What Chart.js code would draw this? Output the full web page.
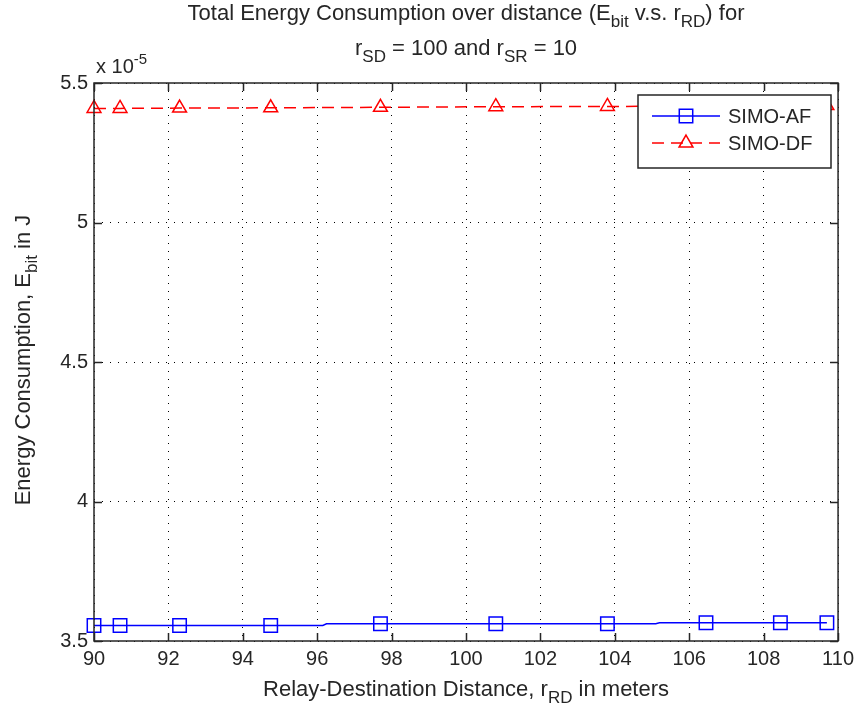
<!DOCTYPE html>
<html>
<head>
<meta charset="utf-8">
<script src="https://cdn.jsdelivr.net/npm/chart.js@4.4.0/dist/chart.umd.min.js"></script>
<style>
  html, body { margin: 0; padding: 0; background: #fff; }
  canvas { display: block; }
</style>
</head>
<body>
<canvas id="energyChart" width="860" height="711"></canvas>
<script>
// energy values are in units of 1e-5 J (axis shows "x 10^-5")
const markerDistances = [90, 90.7, 92.3, 94.75, 97.7, 100.8, 103.8, 106.45, 108.45, 109.7];

const afDistances = [90, 90.7, 92.3, 94.75, 96.15, 96.25, 97.7, 100.8, 103.8, 105.1, 105.2, 106.45, 108.45, 109.7];
const afEnergy    = [3.5556, 3.5556, 3.5556, 3.5556, 3.5556, 3.5616, 3.5616, 3.5616, 3.5616, 3.5616, 3.5652, 3.5652, 3.5652, 3.5652];

const dfDistances = markerDistances;
const dfEnergy    = [5.409, 5.409, 5.410, 5.411, 5.413, 5.415, 5.416, 5.417, 5.418, 5.419];

const xTicks = [90, 92, 94, 96, 98, 100, 102, 104, 106, 108, 110];
const yTicks = [3.5, 4, 4.5, 5, 5.5];
const seriesNames = ['SIMO-AF', 'SIMO-DF'];

const FONT = '"Liberation Sans", Arial, sans-serif';
const LABEL_SIZE = 22;
const TICK_SIZE = 20;
const TEXT_COLOR = '#262626';

// draw text made of parts: [text, ''|'sub'|'sup'], centred on x
function drawRich(ctx, parts, x, y, size, align) {
    const small = Math.round(size * 0.75);
    let total = 0;
    parts.forEach(([t, mode]) => {
        ctx.font = (mode ? small : size) + 'px ' + FONT;
        total += ctx.measureText(t).width;
    });
    let cx = align === 'left' ? x : x - total / 2;
    ctx.textAlign = 'left';
    ctx.textBaseline = 'alphabetic';
    parts.forEach(([t, mode]) => {
        ctx.font = (mode ? small : size) + 'px ' + FONT;
        let dy = 0;
        if (mode === 'sub') dy = size * 0.32;
        if (mode === 'sup') dy = -size * 0.45;
        ctx.fillText(t, cx, y + dy);
        cx += ctx.measureText(t).width;
    });
}

const markerRadius = (ctx) => markerDistances.includes(ctx.raw && ctx.raw.x) ? 9.5 : 0;

const axesPlugin = {
    id: 'matlabAxes',
    afterDatasetsDraw(chart) {
        const { ctx, chartArea: a, scales } = chart;
        ctx.save();
        ctx.strokeStyle = TEXT_COLOR;
        ctx.lineWidth = 1.5;
        ctx.strokeRect(a.left, a.top, a.right - a.left, a.bottom - a.top);
        ctx.beginPath();
        const tl = 8;
        xTicks.forEach(v => {
            const px = Math.round(scales.x.getPixelForValue(v)) + 0.5;
            ctx.moveTo(px, a.bottom); ctx.lineTo(px, a.bottom - tl);
            ctx.moveTo(px, a.top); ctx.lineTo(px, a.top + tl);
        });
        yTicks.forEach(v => {
            const py = Math.round(scales.y.getPixelForValue(v)) + 0.5;
            ctx.moveTo(a.left, py); ctx.lineTo(a.left + tl, py);
            ctx.moveTo(a.right, py); ctx.lineTo(a.right - tl, py);
        });
        ctx.stroke();
        ctx.restore();
    },
    afterDraw(chart) {
        const { ctx, chartArea: a } = chart;
        const midX = (a.left + a.right) / 2;
        ctx.save();
        ctx.fillStyle = TEXT_COLOR;

        // title
        drawRich(ctx, [['Total Energy Consumption over distance (E', ''], ['bit', 'sub'], [' v.s. r', ''], ['RD', 'sub'], [') for', '']], midX, 20, LABEL_SIZE);
        drawRich(ctx, [['r', ''], ['SD', 'sub'], [' = 100 and r', ''], ['SR', 'sub'], [' = 10', '']], midX, 55, LABEL_SIZE);

        // exponent
        drawRich(ctx, [['x 10', ''], ['-5', 'sup']], a.left + 2, 73, TICK_SIZE, 'left');

        // axis titles
        drawRich(ctx, [['Relay-Destination Distance, r', ''], ['RD', 'sub'], [' in meters', '']], midX, 696, LABEL_SIZE);
        ctx.save();
        ctx.translate(30, 360);
        ctx.rotate(-Math.PI / 2);
        drawRich(ctx, [['Energy Consumption, E', ''], ['bit', 'sub'], [' in J', '']], 0, 0, LABEL_SIZE);
        ctx.restore();

        // legend
        const lx = 638, ly = 95, lw = 193, lh = 73;
        ctx.fillStyle = '#fff';
        ctx.fillRect(lx, ly, lw, lh);
        ctx.strokeStyle = TEXT_COLOR;
        ctx.lineWidth = 1.5;
        ctx.strokeRect(lx, ly, lw, lh);

        const rows = [
            { y: ly + 21, color: '#0000ff', dash: [], marker: 'rect', r: 9.5 },
            { y: ly + 48, color: '#ff0000', dash: [12, 7], marker: 'triangle', r: 8 }
        ];
        rows.forEach((row, i) => {
            ctx.save();
            ctx.strokeStyle = row.color;
            ctx.fillStyle = 'rgba(0,0,0,0)';
            ctx.lineWidth = 1.5;
            ctx.setLineDash(row.dash);
            ctx.beginPath();
            ctx.moveTo(lx + 14, row.y); ctx.lineTo(lx + 82, row.y);
            ctx.stroke();
            ctx.setLineDash([]);
            Chart.helpers.drawPoint(ctx, { pointStyle: row.marker, radius: row.r, borderWidth: 1.5 }, lx + 48, row.y);
            ctx.restore();
            ctx.fillStyle = TEXT_COLOR;
            ctx.font = TICK_SIZE + 'px ' + FONT;
            ctx.textAlign = 'left';
            ctx.textBaseline = 'middle';
            ctx.fillText(seriesNames[i], lx + 90, row.y + 1);
        });
        ctx.restore();
    }
};

new Chart(document.getElementById('energyChart'), {
    type: 'line',
    data: {
        datasets: [
            {
                label: seriesNames[0],
                data: afDistances.map((x, i) => ({ x, y: afEnergy[i] })),
                borderColor: '#0000ff',
                backgroundColor: 'transparent',
                borderWidth: 1.5,
                pointStyle: 'rect',
                pointRadius: markerRadius,
                pointBorderWidth: 1.5,
                pointBorderColor: '#0000ff',
                pointBackgroundColor: 'transparent',
                tension: 0,
                clip: false
            },
            {
                label: seriesNames[1],
                data: dfDistances.map((x, i) => ({ x, y: dfEnergy[i] })),
                borderColor: '#ff0000',
                backgroundColor: 'transparent',
                borderWidth: 1.5,
                borderDash: [12, 7],
                pointStyle: 'triangle',
                pointRadius: 8,
                pointBorderWidth: 1.5,
                pointBorderColor: '#ff0000',
                pointBackgroundColor: 'transparent',
                tension: 0,
                clip: false
            }
        ]
    },
    options: {
        responsive: false,
        animation: false,
        devicePixelRatio: 1,
        layout: { padding: { left: 0, right: 21, top: 83, bottom: 0 } },
        plugins: { legend: { display: false }, tooltip: { enabled: false }, title: { display: false } },
        scales: {
            x: {
                type: 'linear',
                min: 90, max: 110,
                afterFit: (s) => { s.height = 70; },
                afterBuildTicks: (s) => { s.ticks = xTicks.map(v => ({ value: v })); },
                grid: { color: '#000', lineWidth: 1, drawTicks: false },
                border: { display: false, dash: [1, 7] },
                ticks: { color: TEXT_COLOR, font: { family: FONT, size: TICK_SIZE }, padding: 6, maxRotation: 0, autoSkip: false }
            },
            y: {
                type: 'linear',
                min: 3.5, max: 5.5,
                afterFit: (s) => { s.width = 94; },
                afterBuildTicks: (s) => { s.ticks = yTicks.map(v => ({ value: v })); },
                grid: { color: '#000', lineWidth: 1, drawTicks: false },
                border: { display: false, dash: [1, 7] },
                ticks: { color: TEXT_COLOR, font: { family: FONT, size: TICK_SIZE }, padding: 6, callback: (v) => String(v) }
            }
        }
    },
    plugins: [axesPlugin]
});
</script>
</body>
</html>
